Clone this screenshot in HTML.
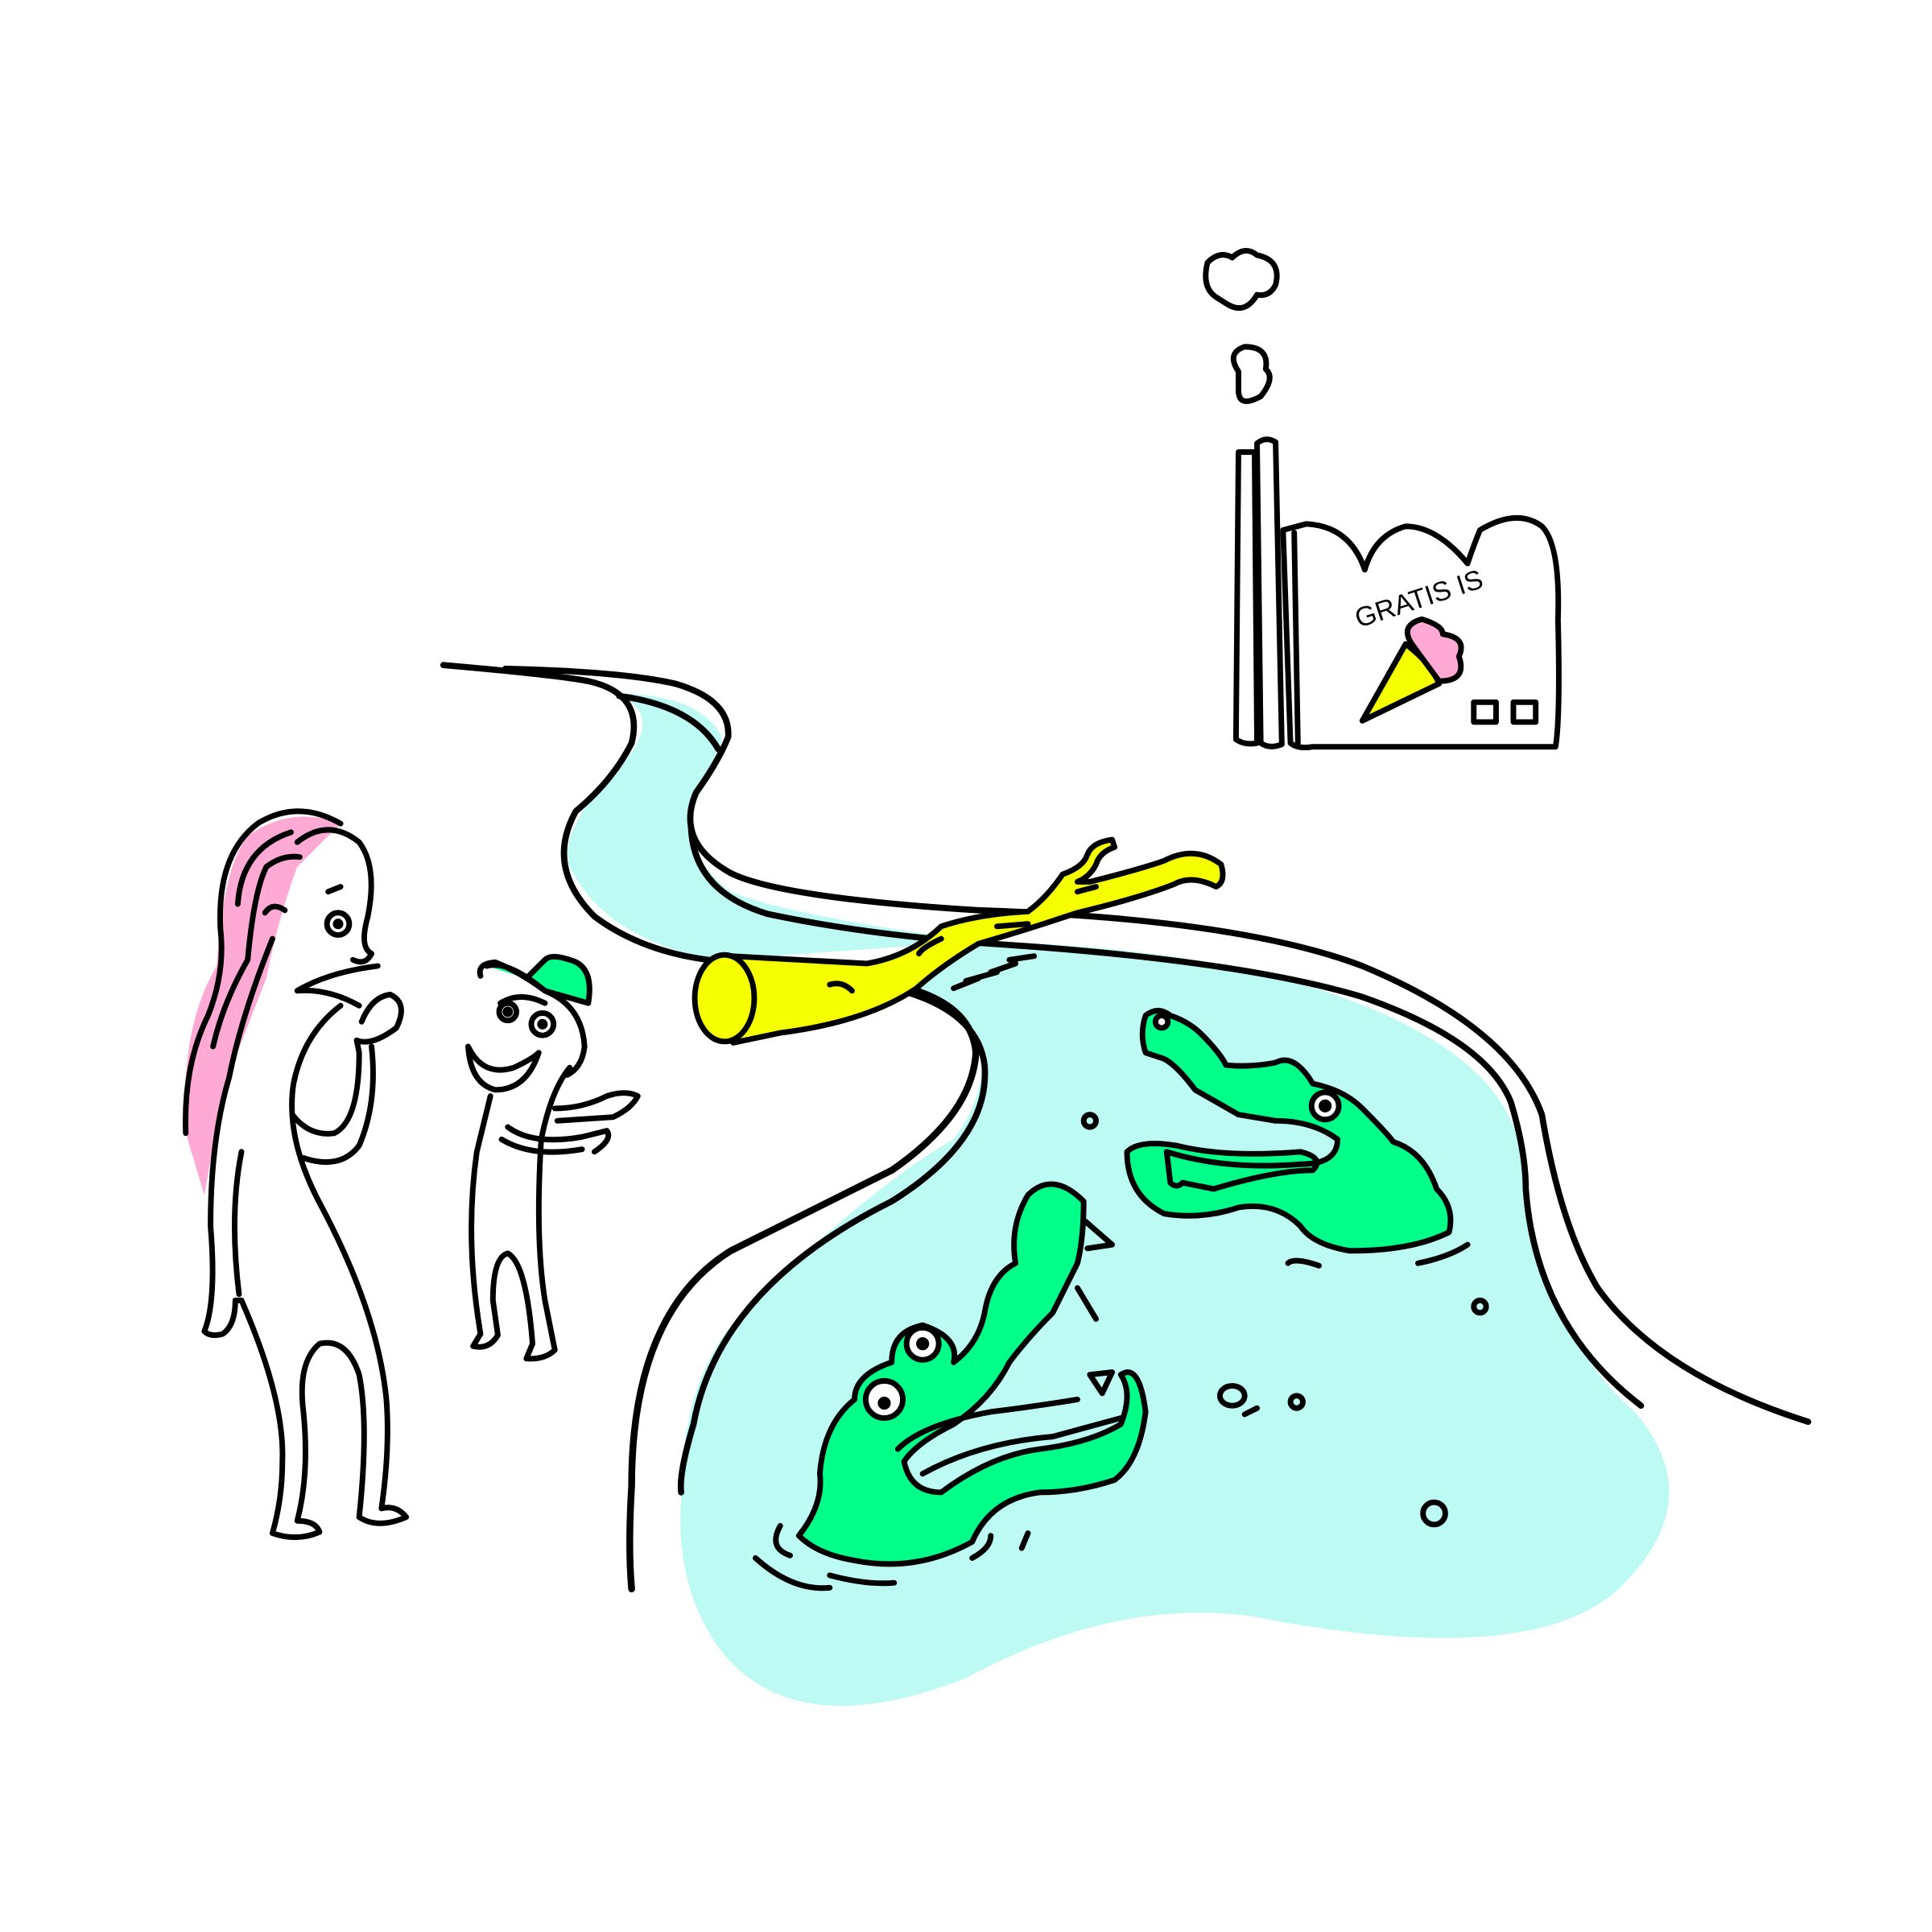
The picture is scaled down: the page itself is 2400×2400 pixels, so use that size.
<!DOCTYPE html>
<html><head><meta charset="utf-8"><style>
html,body{margin:0;padding:0;background:#fff}
svg{display:block}
</style></head><body>
<svg width="2400" height="2400" viewBox="0 0 1560 1560" xmlns="http://www.w3.org/2000/svg" fill="none" stroke="#000" stroke-width="4.5" stroke-linecap="round" stroke-linejoin="round">
<!-- water -->
<path d="M495 560 Q540 575 500 620 Q450 670 460 700 Q490 760 580 775 L790 760 Q1000 765 1120 820 Q1230 870 1230 950 Q1250 1080 1320 1140 Q1380 1210 1310 1280 Q1240 1350 1010 1305 Q900 1290 780 1355 Q640 1410 580 1330 Q545 1280 550 1210 Q550 1110 600 1060 Q700 960 770 920 Q800 880 790 840 Q760 800 710 800 Q740 780 760 760 L790 760 Q640 740 590 720 Q550 690 560 650 Q590 600 580 590 Q560 560 495 560Z" fill="#bdfaf4" stroke="none"/>
<!-- river banks -->
<path d="M358 537 Q450 545 475 550 Q520 560 510 600 Q495 630 465 655 Q440 700 480 740 Q520 770 580 776" stroke-width="5"/>
<path d="M408 540 Q500 542 545 552 Q590 565 588 595 Q580 615 562 640 Q545 680 590 705 Q630 725 790 735 Q1000 742 1100 780 Q1220 830 1245 900 Q1260 990 1290 1040 Q1340 1110 1460 1148" stroke-width="5"/>
<path d="M500 562 Q560 570 580 605 M558 668 Q560 720 620 738 Q700 755 800 762 Q1000 775 1100 805 Q1200 840 1220 890 Q1232 930 1232 960 Q1240 1070 1325 1135" stroke-width="5"/>
<path d="M735 802 Q790 820 795 860 Q800 920 720 970 Q580 1040 560 1150 Q548 1190 550 1205" stroke-width="5"/>
<path d="M740 800 Q785 815 788 850 Q785 900 720 945 Q650 980 590 1010 Q510 1060 510 1200 Q507 1250 510 1283" stroke-width="5.5"/>
<!-- log -->
<path d="M590 772 L700 778 Q735 772 760 748 Q790 738 830 736 Q845 725 858 706 Q875 700 878 690 Q882 680 898 678 L900 684 Q888 688 885 698 Q880 708 870 712 L880 712 Q920 702 940 695 Q965 682 986 698 Q990 712 982 716 Q962 706 948 714 Q920 725 870 737 Q825 752 790 762 Q760 780 740 798 Q700 825 630 834 L592 842 Z" fill="#f5ff00"/>
<ellipse cx="585" cy="806" rx="24" ry="35" fill="#f5ff00"/>
<path d="M670 795 Q680 792 688 800 M760 758 Q745 765 742 770 M805 748 L830 746 M870 720 L885 716"/>
<path d="M770 798 L790 790 M780 792 L805 785 M800 785 L820 778 M815 775 L835 772"/>
<!-- factory -->
<path d="M1000 365 L998 597 Q1005 602 1015 600 L1013 365 Z" fill="#fff"/>
<path d="M1015 358 Q1022 352 1030 357 L1035 601 Q1025 605 1018 600 Z" fill="#fff"/>
<path d="M1036 428 L1042 600 Q1048 605 1060 603 L1256 603 Q1260 580 1258 500 Q1260 440 1245 425 Q1225 410 1195 428 Q1190 440 1185 455 Q1160 425 1135 425 Q1110 432 1102 460 Q1090 425 1055 423 Z" fill="#fff"/>
<path d="M1045 430 L1048 600"/>
<text x="1097" y="507" transform="rotate(-18 1097 507)" font-family="Liberation Sans, sans-serif" font-size="22" fill="#000" stroke="none">GRATIS IS</text>
<path d="M1100 582 L1135 520 Q1155 535 1162 552 Z" fill="#f5ff00"/>
<path d="M1140 520 Q1130 505 1148 500 Q1165 505 1165 512 Q1185 515 1178 530 Q1185 550 1162 550 Z" fill="#ffaad4"/>
<rect x="1190" y="567" width="18" height="16"/><rect x="1222" y="567" width="18" height="16"/>
<!-- smoke -->
<path d="M982 240 Q970 232 975 212 Q985 202 995 208 Q1005 198 1015 206 Q1035 210 1030 230 Q1025 240 1015 238 Q1005 255 990 245 Z"/>
<path d="M1000 300 Q990 285 1005 280 Q1025 280 1022 298 Q1030 305 1018 320 Q1000 330 1000 315 Z"/>
<!-- woman -->
<path d="M150 915 Q145 830 175 780 Q180 700 200 675 Q235 650 275 665 L240 700 Q225 740 215 790 L180 880 L165 965 Z" fill="#ffaad4" stroke="none"/>
<path d="M150 915 Q148 860 168 820 Q182 785 178 750 Q175 690 208 665 Q240 645 275 665"/>
<path d="M172 845 Q180 810 200 775 Q205 720 215 700 Q228 690 242 692"/>
<path d="M192 730 Q195 685 235 672"/>
<path d="M240 680 Q265 660 290 680 Q305 700 297 740 Q290 765 300 770 M300 770 Q295 780 285 775 M305 780 Q265 785 240 800 Q265 798 290 812 M220 758 Q195 820 185 870 Q170 920 170 990 Q175 1050 165 1075 Q170 1080 180 1077 Q190 1070 190 1050 L195 1050 Q230 1130 228 1180 Q228 1210 220 1238 Q240 1245 258 1237 Q255 1228 240 1228 Q250 1190 245 1140 Q240 1100 258 1085 Q280 1080 290 1110 Q298 1150 290 1225 Q305 1235 328 1225 Q320 1215 308 1218 Q315 1170 312 1130 Q305 1060 260 975 Q230 920 237 875 Q245 835 275 812"/>
<path d="M195 930 Q185 980 193 1045"/>
<path d="M236 900 Q250 918 270 915 Q290 905 290 850 L288 840 Q300 845 320 830 Q330 810 315 803 Q300 805 292 825 M300 845 Q305 890 290 925 Q275 945 245 935"/>
<circle cx="273" cy="746" r="9"/><circle cx="273" cy="746" r="2" fill="#000"/>
<path d="M265 720 L275 716 M214 737 Q220 728 230 735"/>
<!-- boy -->
<path d="M393 780 Q410 775 440 800 L475 810 Q480 780 460 775 Q445 770 440 775 L425 790" fill="#00ff88"/>
<path d="M388 788 Q385 778 400 777 Q420 785 440 800 M440 800 Q470 812 472 845 Q470 862 458 868 M404 810 Q420 800 440 810 M378 845 Q390 870 415 862 Q430 855 435 850 Q425 880 400 880 Q380 875 378 845 M460 862 Q445 880 437 920 Q432 1000 440 1050 L448 1090 Q440 1098 425 1097 Q430 1085 430 1085 Q425 1020 410 1012 Q398 1015 398 1050 L402 1078 Q395 1090 382 1087 L388 1077 Q375 1000 385 930 L396 885"/>
<circle cx="410" cy="817" r="7"/><circle cx="438" cy="827" r="9"/><circle cx="438" cy="827" r="2" fill="#000"/><circle cx="410" cy="817" r="2" fill="#000"/>
<path d="M448 895 Q470 895 490 885 Q505 880 515 885 Q510 895 495 902 L450 905 M410 910 Q430 925 470 918 L490 913 Q495 920 480 930 M405 920 Q430 935 470 928"/>
<!-- croc 1 -->
<path d="M925 820 Q935 812 945 820 Q960 825 970 835 Q985 850 990 860 Q1010 862 1030 858 Q1045 850 1060 875 Q1085 880 1100 895 Q1120 915 1125 922 Q1150 930 1160 960 Q1175 975 1170 995 Q1140 1010 1090 1010 Q1060 1005 1050 990 Q1030 970 1000 975 Q970 985 940 980 Q910 965 910 930 Q920 920 950 925 Q990 935 1050 930 Q1070 935 1060 945 Q1030 945 980 960 L955 955 Q950 960 945 955 L942 930 Q990 945 1050 940 Q1080 940 1080 920 Q1060 905 1030 905 L1000 900 L965 880 Q950 860 940 855 L925 850 Q920 835 925 820Z" fill="#00ff88"/>
<circle cx="1070" cy="893" r="11" fill="#fff"/><circle cx="1070" cy="893" r="3" fill="#000"/>
<circle cx="938" cy="825" r="5" fill="#fff"/>
<path d="M1040 1020 Q1045 1015 1065 1022 M1145 1020 Q1170 1015 1185 1005"/>
<!-- croc 2 -->
<path d="M645 1240 Q665 1215 662 1190 Q665 1150 690 1130 Q690 1110 720 1100 Q720 1075 745 1070 Q775 1080 770 1100 Q790 1085 795 1060 Q800 1030 820 1020 Q815 990 830 965 Q850 945 875 970 Q875 1000 870 1020 L860 1040 L850 1060 Q830 1080 815 1100 Q800 1130 770 1150 Q740 1165 730 1180 Q735 1205 760 1205 Q800 1175 840 1170 Q880 1165 905 1150 Q915 1125 905 1110 Q920 1100 925 1140 Q920 1180 900 1195 Q870 1205 840 1205 Q800 1210 785 1245 Q740 1270 690 1260 Q660 1255 645 1240Z" fill="#00ff88"/>
<path d="M725 1170 Q745 1150 800 1140 Q840 1135 870 1130 M745 1190 Q790 1165 850 1160 L905 1145"/>
<circle cx="745" cy="1085" r="13" fill="#fff"/><circle cx="745" cy="1085" r="3" fill="#000"/>
<circle cx="714" cy="1130" r="15" fill="#fff"/><circle cx="714" cy="1133" r="3" fill="#000"/>
<path d="M875 985 L898 1005 L878 1008 M870 1040 L885 1065 M880 1110 L890 1125 L898 1108Z"/>
<path d="M610 1258 Q640 1285 670 1282 M670 1272 Q700 1280 722 1278 M785 1258 Q800 1250 800 1240 M825 1250 L830 1238 M630 1232 Q620 1250 638 1256"/>
<!-- bubbles -->
<circle cx="880" cy="905" r="5"/><circle cx="1195" cy="1055" r="5"/><circle cx="1047" cy="1132" r="5"/><ellipse cx="995" cy="1127" rx="10" ry="8"/><circle cx="1158" cy="1222" r="9"/>
<path d="M1005 1142 L1015 1137"/>
</svg>
</body></html>
